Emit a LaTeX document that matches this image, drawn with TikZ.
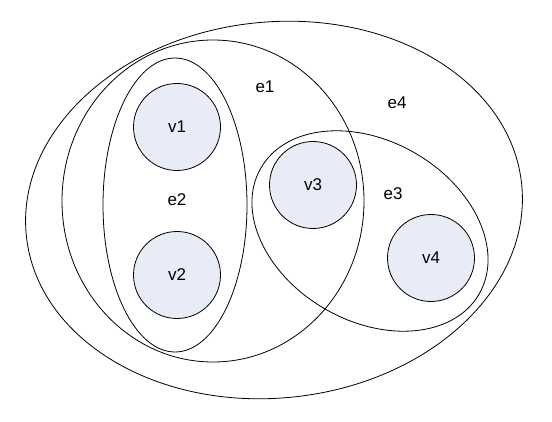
\documentclass[tikz,border=0pt]{standalone}
\usepackage{fontspec}
\setmainfont{Liberation Sans}
\definecolor{vfill}{RGB}{232,236,246}

\begin{document}
\begin{tikzpicture}[x=1pt, y=-1pt, line width=0.8pt,
  vertex/.style={minimum size=87pt, inner sep=0pt, shape=circle, draw, fill=vfill},
  every node/.style={font=\fontsize{17}{20}\selectfont}]
\useasboundingbox (0, 0) rectangle (552, 422);
% hyperedges
\draw[rotate around={6:(274, 210)}] (274, 210) ellipse [x radius=249pt, y radius=188pt];
\draw (213, 201) ellipse [x radius=151pt, y radius=161pt];
\draw (175, 205) ellipse [x radius=72pt, y radius=147pt];
\draw[rotate around={-30:(370, 231)}] (370, 231) ellipse [x radius=126pt, y radius=90pt];
% vertices
\node[vertex] (v1) at (177, 127) {v1};
\node[vertex] (v2) at (177, 275) {v2};
\node[vertex] (v3) at (313, 185) {v3};
\node[vertex] (v4) at (431, 258) {v4};
% edge labels
\node (e1) at (265, 87) {e1};
\node (e2) at (177, 200) {e2};
\node (e3) at (393, 194) {e3};
\node (e4) at (397, 103) {e4};
\end{tikzpicture}
\end{document}
